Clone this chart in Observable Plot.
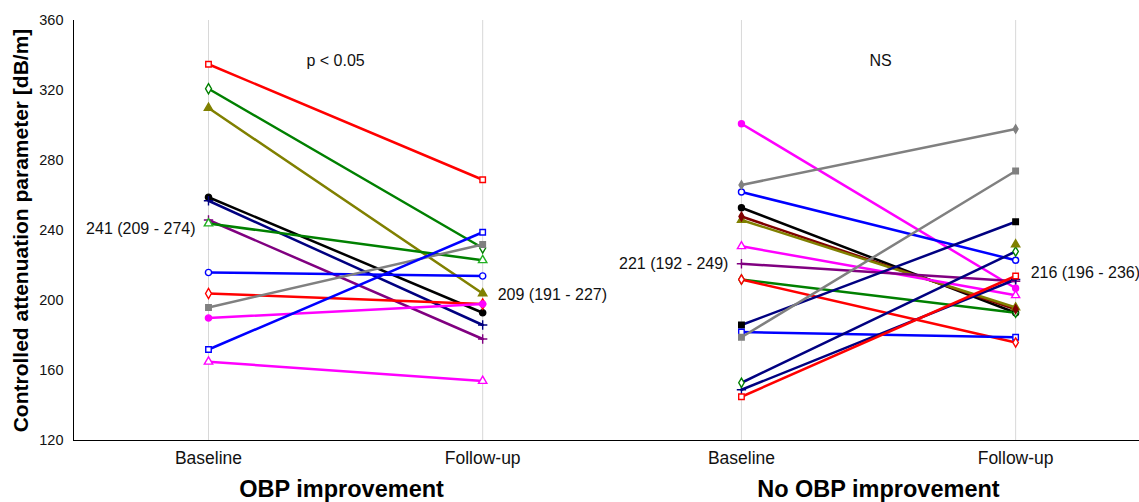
<!DOCTYPE html>
<html><head><meta charset="utf-8">
<script src="https://cdn.jsdelivr.net/npm/d3@7"></script>
<script src="https://cdn.jsdelivr.net/npm/@observablehq/plot@0.6"></script>
<style>
body{margin:0;background:#fff;}
svg{font-family:"Liberation Sans",Arial,sans-serif;}
</style>
</head><body><div id="chart"></div>
<script>
// ---- data ----
const panels = ["OBP improvement", "No OBP improvement"];
const timepoints = ["Baseline", "Follow-up"];
const panelNotes = ["p < 0.05", "NS"];
const yTicks = [120, 160, 200, 240, 280, 320, 360];
const yTitle = "Controlled attenuation parameter [dB/m]";

// left panel (OBP improvement)
const leftBaseline = [335, 321, 310, 259, 257, 246, 244, 216, 204, 196, 190, 172, 165];
const leftFollowup = [269, 230, 204, 193, 186, 178, 223, 214, 198, 232, 198, 239, 154];
// right panel (No OBP improvement)
const rightBaseline = [301, 266, 262, 253, 248, 246, 231, 221, 212, 212, 186, 182, 179, 153, 149, 145];
const rightFollowup = [207, 298, 223, 193, 195, 196, 203, 211, 193, 176, 245, 179, 274, 228, 212, 214];
// extra marker drawn without a line (right panel, follow-up)
const extraMarkerValues = [232];

// summary labels: median (IQR)
const summaryLabels = ["241 (209 - 274)", "209 (191 - 227)", "221 (192 - 249)", "216 (196 - 236)"];
const summaryValues = [241, 203.5, 221, 216];

// ---- styles ----
const leftLineColors = ["#ff0000","#008000","#808000","#000000","#000080","#800080","#008000","#0000ff","#ff0000","#808080","#ff00ff","#0000ff","#ff00ff"];
const leftMarkerColors = ["#ff0000","#008000","#808000","#000000","#000080","#800080","#22b022","#0000ff","#ff0000","#808080","#ff00ff","#0000ff","#ff00ff"];
const leftSymbols = ["square","diamond","triangle","circle","plus","plus","triangle","circle","diamond","square","circle","square","triangle"];
const leftFilled = [false,false,true,true,false,false,false,false,false,true,true,false,false];

const rightLineColors = ["#ff00ff","#808080","#0000ff","#000000","#800000","#808000","#ff00ff","#800080","#008000","#ff0000","#000080","#0000ff","#808080","#000080","#000080","#ff0000"];
const rightMarkerColors = ["#ff00ff","#808080","#0000ff","#000000","#800000","#808000","#ff00ff","#800080","#008000","#ff0000","#000000","#0000ff","#808080","#008000","#000080","#ff0000"];
const rightSymbols = ["circle","diamond","circle","circle","diamond","triangle","triangle","plus","diamond","diamond","square","square","square","diamond","plus","square"];
const rightFilled = [true,true,false,true,true,true,false,false,false,false,true,false,true,false,false,false];
const rightMarkerSize = [4.2,3,4.2,4.2,3.2,4.2,4.2,4.5,3.8,3.8,4.5,4.5,4.5,3.8,4.5,4.5];

// ---- layout helpers ----
const panelOffset = [0, 1.938];
const timeOffset = [0, 0.997];
const xpos = (p, t) => panelOffset[p] + timeOffset[t];

function buildRows(p, base, follow, lineColors, markerColors, symbols, filled, sizes) {
  const rows = [];
  base.forEach((b, i) => {
    [b, follow[i]].forEach((v, t) => rows.push({
      series: p + "-" + i, panel: panels[p], time: timepoints[t], x: xpos(p, t), value: v,
      line: lineColors[i], color: markerColors[i], symbol: symbols[i],
      fill: symbols[i] === "plus" ? "none" : (filled[i] ? markerColors[i] : "white"),
      r: sizes ? sizes[i] : 4.5
    }));
  });
  return rows;
}
const rows = [
  ...buildRows(0, leftBaseline, leftFollowup, leftLineColors, leftMarkerColors, leftSymbols, leftFilled),
  ...buildRows(1, rightBaseline, rightFollowup, rightLineColors, rightMarkerColors, rightSymbols, rightFilled, rightMarkerSize)
];
const extra = extraMarkerValues.map(v => ({x: xpos(1, 1), value: v, color: "#808000", symbol: "triangle", fill: "#808000", r: 4.2}));

const tickXs = [xpos(0,0), xpos(0,1), xpos(1,0), xpos(1,1)];
const tickNames = [timepoints[0], timepoints[1], timepoints[0], timepoints[1]];
const xmin = -135 / 275, xmax = (1139 - 208) / 275;

const summaryLeft = [
  {x: xpos(0,0), value: summaryValues[0], text: summaryLabels[0]},
  {x: xpos(1,0), value: summaryValues[2], text: summaryLabels[2]}
];
const summaryRight = [
  {x: xpos(0,1), value: summaryValues[1], text: summaryLabels[1]},
  {x: xpos(1,1), value: summaryValues[3], text: summaryLabels[3]}
];
const notes = [{x: 0.462, text: panelNotes[0]}, {x: 2.444, text: panelNotes[1]}];
const titles = [{x: 0.484, text: panels[0]}, {x: 2.436, text: panels[1]}];

const chart = Plot.plot({
  width: 1139, height: 502,
  marginLeft: 73, marginRight: 0, marginTop: 20, marginBottom: 62,
  style: {fontSize: "14px"},
  x: {domain: [xmin, xmax], axis: null},
  y: {domain: [120, 360], axis: null},
  color: {type: "identity"},
  symbol: {type: "identity"},
  marks: [
    Plot.ruleX(tickXs, {y1: 120, y2: 360, stroke: "#d8d8d8", strokeWidth: 1}),
    Plot.ruleX([xmin], {y1: 120, y2: 360, stroke: "#000", strokeWidth: 1}),
    Plot.ruleY([120], {x1: xmin, x2: xmax, stroke: "#000", strokeWidth: 1}),
    Plot.axisY({ticks: yTicks, tickSize: 0, tickPadding: 10, fontSize: 14.5, color: "#111", label: null}),
    Plot.axisX({ticks: tickXs, tickFormat: (d, i) => tickNames[i], tickSize: 0, tickPadding: 11, fontSize: 17.5, color: "#111", label: null}),
    Plot.text([yTitle], {frameAnchor: "left", textAnchor: "middle", dx: -52, rotate: -90, fontSize: 21, fontWeight: "bold", fill: "#000"}),
    Plot.line(rows, {x: "x", y: "value", z: "series", stroke: "line", strokeWidth: 2.5}),
    Plot.dot(rows, {x: "x", y: "value", symbol: "symbol", stroke: "color", fill: "fill", r: "r", strokeWidth: 1.4}),
    Plot.dot(extra, {x: "x", y: "value", symbol: "symbol", stroke: "color", fill: "fill", r: "r"}),
    Plot.text(summaryLeft, {x: "x", y: "value", text: "text", textAnchor: "end", dx: -13, fontSize: 16, fill: "#111"}),
    Plot.text(summaryRight, {x: "x", y: "value", text: "text", textAnchor: "start", dx: 15, fontSize: 16, fill: "#111"}),
    Plot.text(notes, {x: "x", y: 337, text: "text", fontSize: 16, fill: "#111"}),
    Plot.text(titles, {x: "x", text: "text", frameAnchor: "bottom", lineAnchor: "bottom", dy: 56, fontSize: 23.5, fontWeight: "bold", fill: "#000"})
  ]
});
document.getElementById("chart").appendChild(chart);
</script>
</body></html>
